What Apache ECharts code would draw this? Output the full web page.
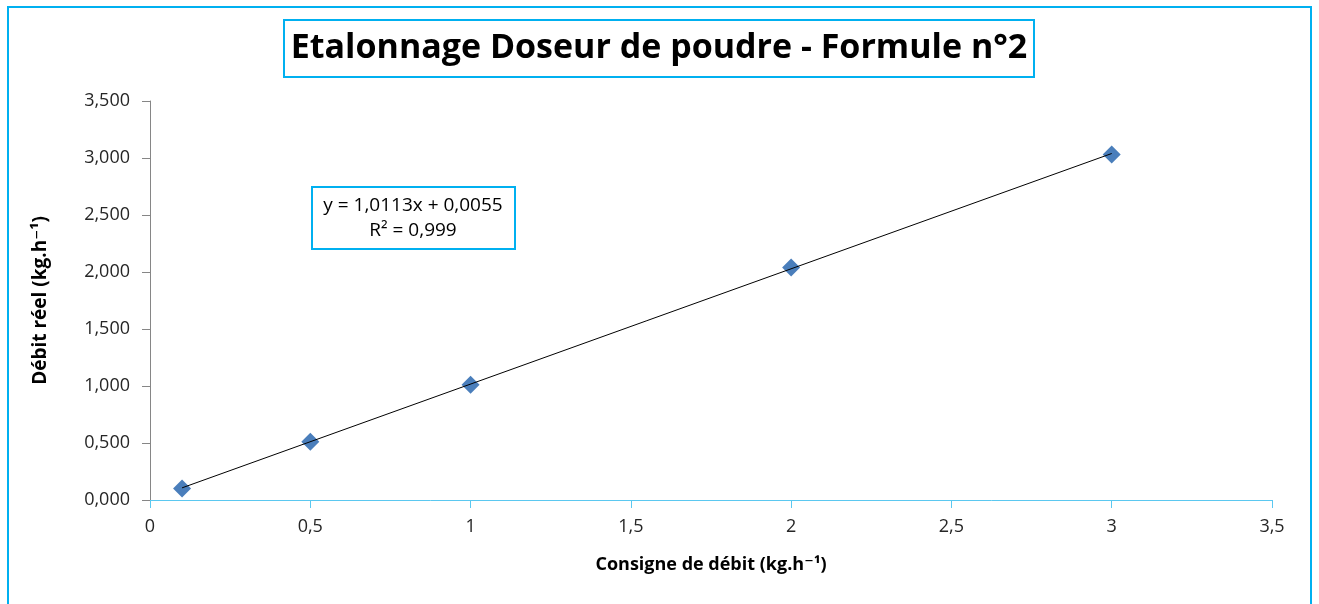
<!DOCTYPE html>
<html>
<head>
<meta charset="utf-8">
<script src="https://cdn.jsdelivr.net/npm/echarts@6/dist/echarts.min.js"></script>
<style>
  html, body { margin: 0; padding: 0; background: #fff; }
  #chart { width: 1319px; height: 604px; }
</style>
</head>
<body>
<div id="chart"></div>
<script>
// mesures de l'étalonnage
const consigne = [0.1, 0.5, 1, 2, 3];
const debitReel = [0.1, 0.51, 1.01, 2.04, 3.03];
// courbe de tendance affichée (Excel)
const pente = 1.0113;
const ordonnee = 0.0055;
const r2 = "0,999";
const xTicks = [0, 0.5, 1, 1.5, 2, 2.5, 3, 3.5];
const yTicks = [0, 0.5, 1, 1.5, 2, 2.5, 3, 3.5];

const fontFam = "'Open Sans', 'DejaVu Sans', sans-serif";
const blue = "#00b0f0";

const points = consigne.map((x, i) => [x, debitReel[i]]);
const xMin = Math.min(...consigne);
const xMax = Math.max(...consigne);
const tendance = [
  [xMin, pente * xMin + ordonnee],
  [xMax, pente * xMax + ordonnee],
];

const chart = echarts.init(document.getElementById("chart"));
chart.setOption({
  backgroundColor: "#fff",
  animation: false,
  textStyle: { fontFamily: fontFam },
  grid: { left: 150, right: 47, top: 101, bottom: 104 },
  xAxis: {
    type: "value",
    min: xTicks[0],
    max: xTicks[xTicks.length - 1],
    interval: 0.5,
    name: "Consigne de débit (kg.h\u207B\u00B9)",
    nameLocation: "middle",
    nameGap: 56,
    nameTextStyle: { fontSize: 18, fontWeight: "bold", color: "#000", fontFamily: fontFam },
    axisLine: { lineStyle: { color: "#5bc8f0", width: 1 } },
    axisTick: { show: true, length: 8, lineStyle: { color: "#5bc8f0" } },
    axisLabel: {
      fontSize: 18,
      color: "#262626",
      margin: 18,
      formatter: (v) => String(v).replace(".", ","),
    },
    splitLine: { show: false },
  },
  yAxis: {
    type: "value",
    min: yTicks[0],
    max: yTicks[yTicks.length - 1],
    interval: 0.5,
    name: "Débit réel (kg.h\u207B\u00B9)",
    nameLocation: "middle",
    nameGap: 100,
    nameTextStyle: { fontSize: 19, fontWeight: "bold", color: "#000", fontFamily: fontFam },
    axisLine: { show: true, lineStyle: { color: "#868686", width: 1 } },
    axisTick: { show: true, length: 8, lineStyle: { color: "#868686" } },
    axisLabel: {
      fontSize: 18,
      color: "#262626",
      margin: 20,
      formatter: (v) => v.toFixed(3).replace(".", ","),
    },
    splitLine: { show: false },
  },
  graphic: [
    {
      type: "rect",
      shape: { x: 8, y: 7, width: 1303, height: 620 },
      style: { fill: "none", stroke: blue, lineWidth: 2 },
      silent: true,
    },
    {
      type: "rect",
      shape: { x: 284, y: 20, width: 750, height: 57 },
      style: { fill: "#fff", stroke: blue, lineWidth: 2 },
    },
    {
      type: "text",
      x: 659,
      y: 48,
      style: {
        text: "Etalonnage Doseur de poudre - Formule n°2",
        fontSize: 34,
        fontWeight: "bold",
        fontFamily: fontFam,
        fill: "#000",
        align: "center",
        verticalAlign: "middle",
      },
    },
    {
      type: "rect",
      shape: { x: 312, y: 187, width: 203, height: 62 },
      style: { fill: "#fff", stroke: blue, lineWidth: 2 },
    },
    {
      type: "text",
      x: 413,
      y: 218,
      style: {
        text: "y = " + String(pente).replace(".", ",") + "x + " + String(ordonnee).replace(".", ",") + "\nR\u00B2 = " + r2,
        fontSize: 19,
        lineHeight: 25,
        fontFamily: fontFam,
        fill: "#000",
        align: "center",
        verticalAlign: "middle",
      },
    },
  ],
  series: [
    {
      name: "Débit réel",
      type: "scatter",
      symbol: "diamond",
      symbolSize: 18,
      itemStyle: { color: "#4a7ebb", opacity: 1 },
      data: points,
      z: 2,
    },
    {
      name: "Linéaire",
      type: "line",
      showSymbol: false,
      lineStyle: { color: "#000", width: 1 },
      data: tendance,
      z: 3,
    },
  ],
});
</script>
</body>
</html>
